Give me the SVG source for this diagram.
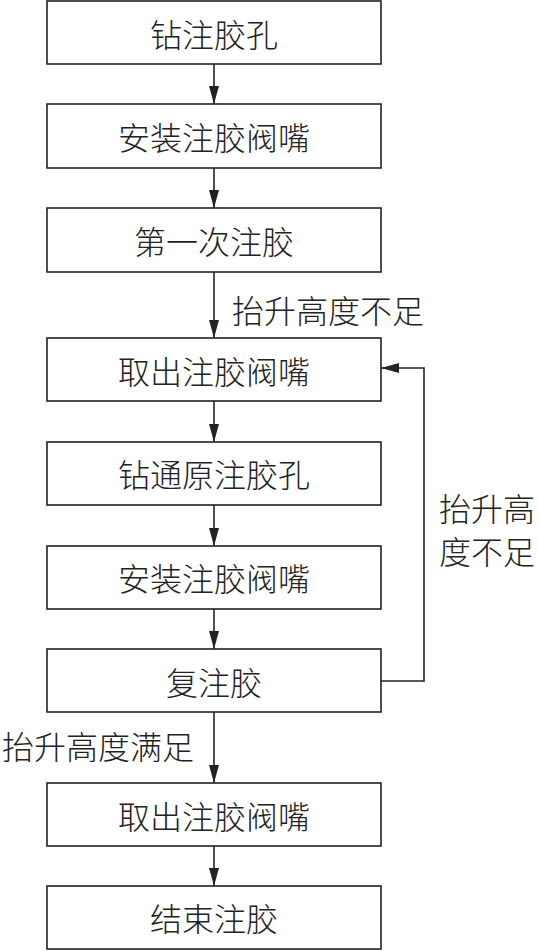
<svg xmlns="http://www.w3.org/2000/svg" width="539" height="951" viewBox="0 0 539 951">
<style>
.box{fill:#fff;stroke:#222;stroke-width:1.6}
.t{font-family:"Noto Sans CJK SC","Noto Sans",sans-serif;font-size:32px;fill:#222;font-weight:300}
.c{text-anchor:middle;dominant-baseline:central}
.ln{fill:none;stroke:#222;stroke-width:1.6}
</style>
<defs>
<marker id="ah" markerWidth="18" markerHeight="10" refX="18" refY="5" viewBox="0 0 18 10" orient="auto" markerUnits="userSpaceOnUse">
<path d="M0,0 L18,5 L0,10 Z" fill="#222"/>
</marker>
</defs>
<rect width="539" height="951" fill="#fff"/>
<g id="connectors">
<line class="ln" x1="214" y1="64" x2="214" y2="104" marker-end="url(#ah)"/>
<line class="ln" x1="214" y1="168" x2="214" y2="208" marker-end="url(#ah)"/>
<line class="ln" x1="214" y1="272" x2="214" y2="338" marker-end="url(#ah)"/>
<line class="ln" x1="214" y1="401" x2="214" y2="442" marker-end="url(#ah)"/>
<line class="ln" x1="214" y1="505" x2="214" y2="546" marker-end="url(#ah)"/>
<line class="ln" x1="214" y1="609" x2="214" y2="649" marker-end="url(#ah)"/>
<line class="ln" x1="214" y1="712" x2="214" y2="783" marker-end="url(#ah)"/>
<line class="ln" x1="214" y1="846" x2="214" y2="886" marker-end="url(#ah)"/>
<polyline class="ln" points="381,681 424,681 424,368 381,368" marker-end="url(#ah)"/>
<text class="t" x="232" y="309" dominant-baseline="central">抬升高度不足</text>
<text class="t" x="439" y="507" dominant-baseline="central">抬升高</text>
<text class="t" x="439" y="550" dominant-baseline="central">度不足</text>
<text class="t" x="2" y="745" dominant-baseline="central">抬升高度满足</text>
</g>
<g id="n1"><rect class="box" x="47" y="1" width="334" height="63"/><text class="t c" x="214" y="33">钻注胶孔</text></g>
<g id="n2"><rect class="box" x="47" y="104" width="334" height="64"/><text class="t c" x="214" y="136">安装注胶阀嘴</text></g>
<g id="n3"><rect class="box" x="47" y="208" width="334" height="64"/><text class="t c" x="214" y="240">第一次注胶</text></g>
<g id="n4"><rect class="box" x="47" y="338" width="334" height="63"/><text class="t c" x="214" y="370">取出注胶阀嘴</text></g>
<g id="n5"><rect class="box" x="47" y="442" width="334" height="63"/><text class="t c" x="214" y="473">钻通原注胶孔</text></g>
<g id="n6"><rect class="box" x="47" y="546" width="334" height="63"/><text class="t c" x="214" y="577">安装注胶阀嘴</text></g>
<g id="n7"><rect class="box" x="47" y="649" width="334" height="63"/><text class="t c" x="214" y="681">复注胶</text></g>
<g id="n8"><rect class="box" x="47" y="783" width="334" height="63"/><text class="t c" x="214" y="815">取出注胶阀嘴</text></g>
<g id="n9"><rect class="box" x="47" y="886" width="334" height="63"/><text class="t c" x="214" y="917">结束注胶</text></g>
</svg>
